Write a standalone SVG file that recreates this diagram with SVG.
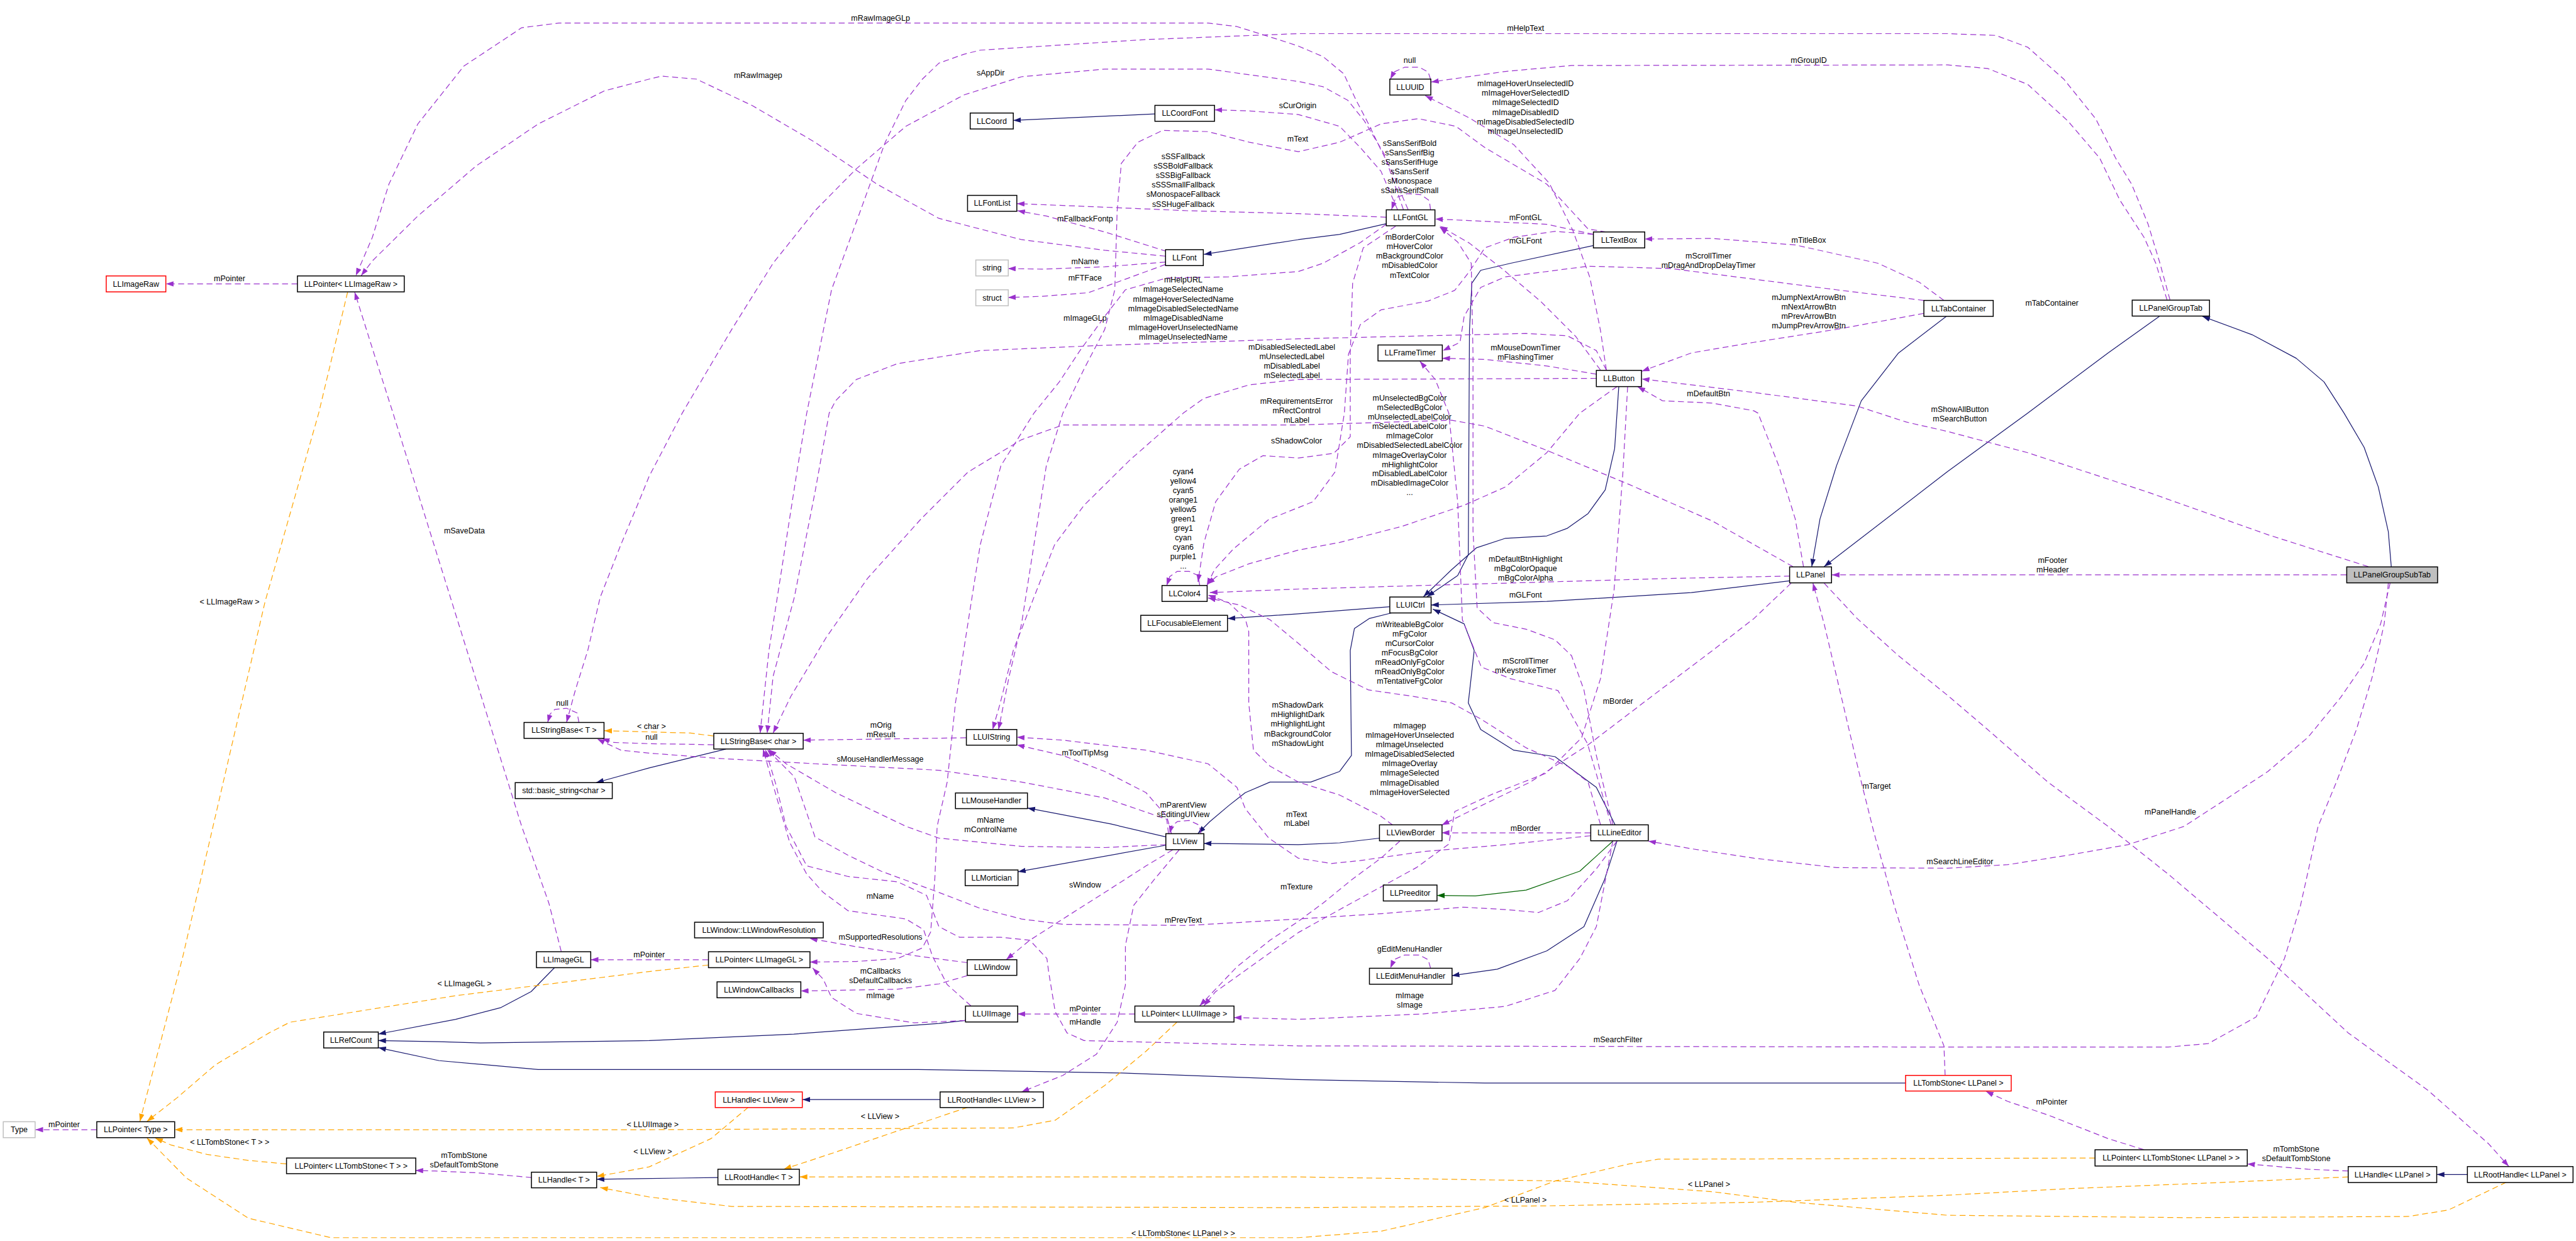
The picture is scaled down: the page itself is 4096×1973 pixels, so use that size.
<svg xmlns="http://www.w3.org/2000/svg" width="4096" height="1973" viewBox="0 0 4096 1973">
<defs>
<style>
.n rect{fill:#fff;stroke:#000;stroke-width:1.6}
.n.r rect{stroke:#ff0000}
.n.u rect{stroke:#bfbfbf}
.n.c rect{fill:#bfbfbf}
text{font-family:"Liberation Sans",Arial,Helvetica,sans-serif;font-size:13.3px;text-anchor:middle;fill:#000}
.p{fill:none;stroke:#9a32cd;stroke-width:1.3;stroke-dasharray:10 6;stroke-linejoin:round;marker-end:url(#ap)}
.b{fill:none;stroke:#191970;stroke-width:1.3;stroke-linejoin:round;marker-end:url(#ab)}
.g{fill:none;stroke:#006400;stroke-width:1.3;stroke-linejoin:round;marker-end:url(#ag)}
.o{fill:none;stroke:#ffa500;stroke-width:1.3;stroke-dasharray:10 6;stroke-linejoin:round;marker-end:url(#ao)}
</style>
<marker id="ap" markerWidth="14" markerHeight="10" refX="13" refY="4.5" orient="auto" markerUnits="userSpaceOnUse"><path d="M0,0L13,4.5L0,9z" fill="#9a32cd" stroke="none"/></marker>
<marker id="ab" markerWidth="14" markerHeight="10" refX="13" refY="4.5" orient="auto" markerUnits="userSpaceOnUse"><path d="M0,0L13,4.5L0,9z" fill="#191970" stroke="none"/></marker>
<marker id="ag" markerWidth="14" markerHeight="10" refX="13" refY="4.5" orient="auto" markerUnits="userSpaceOnUse"><path d="M0,0L13,4.5L0,9z" fill="#006400" stroke="none"/></marker>
<marker id="ao" markerWidth="14" markerHeight="10" refX="13" refY="4.5" orient="auto" markerUnits="userSpaceOnUse"><path d="M0,0L13,4.5L0,9z" fill="#ffa500" stroke="none"/></marker>
</defs>
<rect x="0" y="0" width="4096" height="1973" fill="#fff"/>
<g transform="scale(0.93837)">
<g id="connectors">
<path class="b" d="M1957,193 L1717,204"/>
<path class="b" d="M2349,379 L2270,397 L2200,406 L2040,431"/>
<path class="b" d="M2700,416 L2560,446 L2509,458 L2494,480 L2490,560 L2488,940 L2470,975 L2418,1011"/>
<path class="b" d="M2743,655 L2736,760 L2720,830 L2691,870 L2656,895 L2621,908 L2551,912 L2502,928 L2460,965 L2412,1011"/>
<path class="b" d="M3033,984 L2866,1004 L2621,1019 L2425,1025"/>
<path class="b" d="M2355,1028 L2200,1040 L2080,1048"/>
<path class="b" d="M2360,1038 L2320,1048 L2295,1065 L2288,1102 L2290,1280 L2270,1307 L2221,1325 L2152,1325 L2110,1343 L2082,1365 L2050,1392 L2030,1412"/>
<path class="b" d="M2737,1398 L2705,1334 L2635,1282 L2565,1271 L2509,1236 L2488,1191 L2498,1102 L2481,1057 L2428,1032"/>
<path class="b" d="M1976,1418 L1882,1396 L1741,1369"/>
<path class="b" d="M1976,1432 L1725,1477"/>
<path class="b" d="M2338,1420 L2270,1428 L2200,1431 L2040,1429"/>
<path class="b" d="M1230,1269 L1100,1301 L1010,1326"/>
<path class="b" d="M940,1639 L900,1680 L849,1707 L772,1727 L641,1752"/>
<path class="b" d="M1636,1729 L1591,1734 L1345,1752 L1100,1763 L814,1767 L744,1765 L641,1763"/>
<path class="b" d="M3229,1835 L2516,1835 L2200,1829 L1900,1818 L1556,1812 L1100,1812 L912,1812 L744,1797 L641,1775"/>
<path class="b" d="M1593,1863 L1360,1863"/>
<path class="b" d="M1216,1995 L1149,1996 L1011,1998"/>
<path class="b" d="M4181,1990 L4129,1990"/>
<path class="b" d="M3659,536 L3572,598 L3436,700 L3300,799 L3091,960"/>
<path class="b" d="M3298,536 L3217,598 L3154,679 L3112,789 L3084,879 L3070,960"/>
<path class="b" d="M4052,960 L4047,901 L4030,825 L4006,758 L3972,700 L3938,647 L3891,607 L3816,567 L3732,536"/>
<path class="b" d="M2740,1425 L2719,1490 L2684,1570 L2621,1611 L2537,1642 L2460,1653"/>
<path class="g" d="M2733,1425 L2677,1476 L2586,1508 L2500,1518 L2435,1517"/>
<path class="o" d="M589,495 L540,700 L449,1020 L361,1400 L309,1624 L237,1900"/>
<path class="o" d="M1200,1635 L1100,1646 L772,1687 L491,1732 L456,1750 L365,1804 L300,1860 L249,1900"/>
<path class="o" d="M1994,1732 L1942,1781 L1872,1839 L1788,1898 L1717,1911 L1100,1914 L296,1914"/>
<path class="o" d="M1640,1876 L1521,1916 L1416,1952 L1328,1981"/>
<path class="o" d="M1268,1876 L1205,1929 L1100,1977 L1040,1988 L1011,1993"/>
<path class="o" d="M485,1972 L421,1966 L351,1956 L290,1940 L263,1928"/>
<path class="o" d="M3550,1962 L2810,1964 L2761,1972 L2635,2001 L2516,2046 L2340,2086 L2200,2097 L561,2097 L421,2064 L316,1996 L249,1928"/>
<path class="o" d="M3979,1994 L3775,2003 L3504,2014 L3300,2025 L2972,2037 L2621,2043 L2200,2046 L1240,2044 L1100,2028 L1017,2012"/>
<path class="o" d="M4247,2003 L4149,2050 L4081,2061 L3707,2063 L3300,2059 L3042,2037 L2901,2019 L2649,2001 L2200,1994 L1355,1994"/>
<path class="o" d="M1209,1247 L1170,1242 L1100,1240 L1024,1238"/>
<path class="p" d="M504,481 L281,481"/>
<path class="p" d="M2386,355 L2379,339 L2361,295 L2340,254 L2319,210 L2298,170 L2277,125 L2242,96 L2200,78 L2166,67 L2096,45 L2047,39 L947,39 L884,47 L786,112 L708,210 L659,312 L631,402 L603,467"/>
<path class="p" d="M1975,434 L1872,424 L1731,406 L1591,370 L1486,312 L1381,241 L1275,179 L1180,134 L1121,129 L1100,134 L1024,154 L912,210 L807,281 L708,366 L631,442 L612,467"/>
<path class="p" d="M951,1612 L930,1530 L884,1400 L666,700 L635,603 L612,530 L601,495"/>
<path class="p" d="M2368,355 L2340,290 L2305,250 L2270,214 L2200,194 L2117,188 L2058,186"/>
<path class="p" d="M2424,355 L2422,340 L2408,330 L2385,328 L2365,335 L2358,355"/>
<path class="p" d="M2349,368 L2200,362 L2012,357 L1872,351 L1723,345"/>
<path class="p" d="M1977,426 L1872,393 L1773,366 L1724,357"/>
<path class="p" d="M1975,444 L1872,452 L1766,456 L1708,455"/>
<path class="p" d="M1975,448 L1907,473 L1844,496 L1766,502 L1708,504"/>
<path class="p" d="M3677,508 L3660,446 L3640,380 L3612,312 L3585,268 L3551,201 L3497,134 L3436,80 L3382,60 L3300,57 L2200,57 L1942,67 L1661,85 L1633,92 L1591,107 L1563,134 L1535,170 L1500,241 L1458,357 L1409,491 L1367,700 L1352,789 L1324,968 L1303,1102 L1288,1242"/>
<path class="p" d="M3672,508 L3653,446 L3633,402 L3592,339 L3558,268 L3504,205 L3436,143 L3368,116 L3300,110 L2663,111 L2551,121 L2425,139"/>
<path class="p" d="M2722,627 L2712,560 L2694,470 L2665,390 L2625,310 L2565,245 L2490,200 L2415,162"/>
<path class="p" d="M2700,397 L2621,380 L2516,375 L2432,371"/>
<path class="p" d="M2712,627 L2670,570 L2610,510 L2545,455 L2490,412 L2440,383"/>
<path class="p" d="M2722,393 L2691,388 L2621,312 L2516,250 L2467,214 L2403,201 L2340,210 L2270,241 L2200,257 L2117,241 L2047,223 L1970,221 L1928,241 L1900,277 L1893,357 L1889,491 L1872,558 L1837,625 L1801,700 L1773,789 L1752,923 L1731,1057 L1710,1146 L1692,1236"/>
<path class="p" d="M2705,641 L2200,643 L2117,652 L2040,675 L2005,700 L1914,780 L1837,856 L1787,923 L1752,1012 L1717,1102 L1695,1191 L1682,1236"/>
<path class="p" d="M2722,627 L2705,594 L2656,569 L2586,565 L2200,574 L2082,578 L1872,585 L1661,594 L1521,616 L1451,643 L1416,679 L1405,700 L1381,834 L1346,1012 L1310,1146 L1300,1242"/>
<path class="p" d="M2349,380 L2305,411 L2242,446 L2200,460 L2082,469 L1977,471 L1907,491 L1872,536 L1830,594 L1795,647 L1752,700 L1696,789 L1661,923 L1640,1057 L1619,1191 L1605,1325 L1588,1400 L1584,1490 L1577,1579 L1563,1606 L1521,1624 L1451,1629 L1372,1630"/>
<path class="p" d="M1645,1704 L1605,1668 L1580,1620 L1565,1575 L1535,1557 L1486,1550 L1437,1543 L1395,1512 L1367,1481 L1338,1427 L1310,1330 L1293,1269"/>
<path class="p" d="M1980,1412 L1977,1388 L1872,1352 L1731,1325 L1591,1305 L1381,1294 L1219,1285 L1100,1276 L1052,1271 L1012,1252"/>
<path class="p" d="M1209,1262 L1170,1261 L1100,1260 L1040,1258 L1020,1251"/>
<path class="p" d="M981,1224 L978,1208 L960,1200 L940,1202 L932,1210 L928,1224"/>
<path class="p" d="M2378,355 L2345,260 L2312,205 L2284,170 L2242,147 L2200,138 L2047,117 L1872,117 L1731,130 L1633,161 L1535,214 L1451,286 L1381,357 L1310,446 L1240,558 L1156,700 L1100,807 L1080,856 L1052,923 L1017,1012 L996,1102 L975,1169 L960,1224"/>
<path class="p" d="M1637,1250 L1361,1254"/>
<path class="p" d="M1985,1412 L1977,1383 L1942,1343 L1872,1307 L1801,1280 L1723,1262"/>
<path class="p" d="M2695,1416 L2551,1431 L2410,1443 L2305,1458 L2256,1463 L2200,1454 L2150,1420 L2110,1370 L2096,1334 L2047,1294 L1942,1271 L1801,1254 L1723,1249"/>
<path class="p" d="M1976,1431 L1872,1436 L1731,1434 L1591,1420 L1535,1400 L1416,1343 L1332,1294 L1303,1270"/>
<path class="p" d="M2740,1425 L2705,1472 L2656,1526 L2607,1546 L2551,1541 L2480,1537 L2340,1548 L2200,1557 L2012,1568 L1801,1566 L1731,1557 L1661,1539 L1591,1512 L1493,1476 L1437,1449 L1381,1418 L1346,1316 L1310,1280 L1300,1270"/>
<path class="p" d="M2035,1412 L2032,1398 L2015,1390 L1995,1392 L1985,1400 L1982,1412"/>
<path class="p" d="M1987,1440 L1942,1467 L1872,1512 L1801,1557 L1745,1593 L1705,1626"/>
<path class="p" d="M1998,1440 L1956,1490 L1921,1534 L1907,1602 L1907,1669 L1893,1732 L1858,1786 L1801,1822 L1731,1850"/>
<path class="p" d="M1923,1718 L1724,1718"/>
<path class="p" d="M2758,655 L2750,800 L2735,1000 L2712,1150 L2680,1250 L2620,1310 L2530,1345 L2465,1375 L2455,1430 L2400,1470 L2290,1530 L2200,1580 L2130,1630 L2060,1680 L2040,1704"/>
<path class="p" d="M2372,1425 L2340,1454 L2291,1490 L2242,1530 L2200,1561 L2152,1593 L2096,1638 L2033,1704"/>
<path class="p" d="M2733,1425 L2705,1570 L2677,1624 L2635,1678 L2551,1705 L2410,1718 L2200,1727 L2091,1724"/>
<path class="p" d="M2695,1411 L2443,1411"/>
<path class="p" d="M3035,988 L2972,1048 L2902,1102 L2796,1182 L2691,1262 L2593,1325 L2481,1379 L2443,1398"/>
<path class="p" d="M3056,960 L3042,879 L3014,789 L2979,700 L2972,696 L2902,683 L2817,679 L2775,655"/>
<path class="p" d="M4013,960 L3843,906 L3640,834 L3436,767 L3300,731 L3230,715 L3147,688 L2972,665 L2866,652 L2782,642"/>
<path class="p" d="M3260,531 L3112,558 L2972,580 L2866,598 L2782,629"/>
<path class="p" d="M3260,509 L3112,491 L2972,473 L2831,455 L2691,451 L2551,469 L2509,487 L2481,536 L2474,580 L2445,594"/>
<path class="p" d="M3294,509 L3252,478 L3182,446 L3042,415 L2902,404 L2787,405"/>
<path class="p" d="M2705,634 L2621,620 L2516,609 L2444,607"/>
<path class="p" d="M2730,1397 L2690,1260 L2640,1170 L2560,1150 L2510,1130 L2478,1050 L2470,850 L2455,700 L2432,643 L2406,612"/>
<path class="p" d="M3296,1822 L3294,1772 L3252,1669 L3210,1535 L3175,1409 L3154,1325 L3112,1146 L3091,1057 L3072,988"/>
<path class="p" d="M3633,1948 L3572,1929 L3470,1889 L3402,1866 L3365,1849"/>
<path class="p" d="M3979,1984 L3911,1981 L3843,1975 L3808,1972"/>
<path class="p" d="M3091,988 L3147,1048 L3217,1111 L3300,1178 L3368,1236 L3470,1325 L3572,1400 L3674,1481 L3843,1624 L3979,1750 L4115,1848 L4217,1938 L4251,1976"/>
<path class="p" d="M3976,974 L3104,974"/>
<path class="p" d="M4050,988 L4034,1057 L4006,1124 L3966,1182 L3911,1249 L3843,1307 L3775,1352 L3701,1400 L3606,1431 L3504,1449 L3402,1465 L3300,1471 L3112,1470 L2972,1454 L2866,1438 L2793,1425"/>
<path class="p" d="M4047,988 L4040,1057 L4020,1146 L3993,1236 L3959,1325 L3928,1400 L3898,1535 L3871,1624 L3823,1723 L3742,1768 L3674,1774 L3300,1774 L2200,1772 L1837,1763 L1808,1750 L1788,1714 L1777,1647 L1774,1624 L1745,1593 L1696,1588 L1626,1588 L1591,1570 L1570,1517 L1521,1494 L1437,1485 L1367,1467 L1332,1400 L1315,1330 L1297,1270"/>
<path class="p" d="M1200,1626 L1001,1626"/>
<path class="p" d="M1639,1631 L1556,1620 L1451,1604 L1372,1590"/>
<path class="p" d="M1639,1653 L1591,1667 L1521,1676 L1357,1679"/>
<path class="p" d="M1636,1729 L1549,1733 L1451,1717 L1409,1690 L1395,1659 L1377,1640"/>
<path class="p" d="M901,1995 L807,1987 L737,1984 L704,1983"/>
<path class="p" d="M164,1914 L60,1914"/>
<path class="p" d="M3038,960 L2902,883 L2761,821 L2621,763 L2516,722 L2460,712 L2200,720 L1801,720 L1731,745 L1640,800 L1560,880 L1470,980 L1400,1080 L1340,1180 L1310,1242"/>
<path class="p" d="M3033,976 L2831,980 L2621,986 L2411,992 L2200,998 L2050,1004"/>
<path class="p" d="M2712,1397 L2691,1325 L2656,1298 L2586,1267 L2509,1218 L2460,1191 L2396,1180 L2319,1169 L2256,1138 L2200,1090 L2152,1050 L2100,1025 L2047,1013"/>
<path class="p" d="M2360,1398 L2340,1383 L2270,1347 L2200,1325 L2152,1298 L2124,1271 L2116,1191 L2116,1070 L2110,1048 L2082,1021 L2047,1008"/>
<path class="p" d="M2700,397 L2635,392 L2565,402 L2516,420 L2490,460 L2465,492 L2420,510 L2340,525 L2305,550 L2285,600 L2278,700 L2262,800 L2225,850 L2150,880 L2090,930 L2058,965 L2045,992"/>
<path class="p" d="M2365,383 L2310,420 L2292,480 L2288,600 L2288,740 L2260,768 L2200,776 L2140,772 L2100,795 L2060,850 L2040,920 L2030,986"/>
<path class="p" d="M2033,992 L2030,975 L2015,968 L1995,968 L1982,977 L1977,992"/>
<path class="p" d="M2740,655 L2677,700 L2621,767 L2551,825 L2481,856 L2375,892 L2270,919 L2200,932 L2117,955 L2061,977 L2046,990"/>
<path class="p" d="M2733,1397 L2705,1280 L2684,1169 L2663,1111 L2635,1084 L2586,1066 L2530,1055 L2503,1030 L2496,900 L2496,600 L2493,446 L2470,410 L2440,385"/>
<path class="p" d="M2424,134 L2420,122 L2405,114 L2380,114 L2362,122 L2356,134"/>
<path class="p" d="M2424,1640 L2420,1626 L2405,1618 L2380,1618 L2362,1626 L2356,1640"/>
<g id="edge-labels">
<text x="389" y="476.5">mPointer</text>
<text x="1492" y="35.5">mRawImageGLp</text>
<text x="1284.5" y="132.5">mRawImagep</text>
<text x="1678.7" y="127.5">sAppDir</text>
<text x="2199" y="183.5">sCurOrigin</text>
<text x="2199" y="239.5">mText</text>
<text x="2585" y="52.5">mHelpText</text>
<text x="2388.7" y="106.5">null</text>
<text x="3065" y="106.5">mGroupID</text>
<text x="2585" y="146.5">mImageHoverUnselectedID</text>
<text x="2585" y="162.5">mImageHoverSelectedID</text>
<text x="2585" y="178.5">mImageSelectedID</text>
<text x="2585" y="194.5">mImageDisabledID</text>
<text x="2585" y="210.5">mImageDisabledSelectedID</text>
<text x="2585" y="226.5">mImageUnselectedID</text>
<text x="2388.7" y="247">sSansSerifBold</text>
<text x="2388.7" y="263">sSansSerifBig</text>
<text x="2388.7" y="279">sSansSerifHuge</text>
<text x="2388.7" y="295">sSansSerif</text>
<text x="2388.7" y="311">sMonospace</text>
<text x="2388.7" y="327">sSansSerifSmall</text>
<text x="2005" y="270">sSSFallback</text>
<text x="2005" y="286">sSSBoldFallback</text>
<text x="2005" y="302">sSSBigFallback</text>
<text x="2005" y="318">sSSSmallFallback</text>
<text x="2005" y="334">sMonospaceFallback</text>
<text x="2005" y="350.5">sSSHugeFallback</text>
<text x="1838.7" y="375">mFallbackFontp</text>
<text x="1838.7" y="448">mName</text>
<text x="1838.7" y="475">mFTFace</text>
<text x="2005" y="479">mHelpURL</text>
<text x="2005" y="495">mImageSelectedName</text>
<text x="2005" y="511">mImageHoverSelectedName</text>
<text x="2005" y="527">mImageDisabledSelectedName</text>
<text x="2005" y="543">mImageDisabledName</text>
<text x="2005" y="559">mImageHoverUnselectedName</text>
<text x="2005" y="575.5">mImageUnselectedName</text>
<text x="1838.7" y="543">mImageGLp</text>
<text x="2585" y="372.5">mFontGL</text>
<text x="2585" y="412">mGLFont</text>
<text x="2388.7" y="406">mBorderColor</text>
<text x="2388.7" y="422">mHoverColor</text>
<text x="2388.7" y="438.5">mBackgroundColor</text>
<text x="2388.7" y="454.5">mDisabledColor</text>
<text x="2388.7" y="470.5">mTextColor</text>
<text x="3065" y="411">mTitleBox</text>
<text x="2895" y="438.5">mScrollTimer</text>
<text x="2895" y="454.5">mDragAndDropDelayTimer</text>
<text x="3065" y="508">mJumpNextArrowBtn</text>
<text x="3065" y="524">mNextArrowBtn</text>
<text x="3065" y="540">mPrevArrowBtn</text>
<text x="3065" y="556">mJumpPrevArrowBtn</text>
<text x="3477" y="518">mTabContainer</text>
<text x="2585" y="594">mMouseDownTimer</text>
<text x="2585" y="610">mFlashingTimer</text>
<text x="2189" y="592">mDisabledSelectedLabel</text>
<text x="2189" y="608">mUnselectedLabel</text>
<text x="2189" y="624">mDisabledLabel</text>
<text x="2189" y="640">mSelectedLabel</text>
<text x="2895" y="671">mDefaultBtn</text>
<text x="3321" y="697.5">mShowAllButton</text>
<text x="3321" y="713.5">mSearchButton</text>
<text x="2197" y="684">mRequirementsError</text>
<text x="2197" y="700">mRectControl</text>
<text x="2197" y="716">mLabel</text>
<text x="2388.7" y="679">mUnselectedBgColor</text>
<text x="2388.7" y="695">mSelectedBgColor</text>
<text x="2388.7" y="711">mUnselectedLabelColor</text>
<text x="2388.7" y="727">mSelectedLabelColor</text>
<text x="2388.7" y="743">mImageColor</text>
<text x="2388.7" y="759">mDisabledSelectedLabelColor</text>
<text x="2388.7" y="775.5">mImageOverlayColor</text>
<text x="2388.7" y="791.5">mHighlightColor</text>
<text x="2388.7" y="807">mDisabledLabelColor</text>
<text x="2388.7" y="823">mDisabledImageColor</text>
<text x="2388.7" y="839">...</text>
<text x="2197" y="751">sShadowColor</text>
<text x="2005" y="803.5">cyan4</text>
<text x="2005" y="819.5">yellow4</text>
<text x="2005" y="835.5">cyan5</text>
<text x="2005" y="851.5">orange1</text>
<text x="2005" y="867.5">yellow5</text>
<text x="2005" y="883.5">green1</text>
<text x="2005" y="899.5">grey1</text>
<text x="2005" y="915.5">cyan</text>
<text x="2005" y="931.5">cyan6</text>
<text x="2005" y="947.5">purple1</text>
<text x="2005" y="963.5">...</text>
<text x="787" y="904">mSaveData</text>
<text x="2585" y="951.5">mDefaultBtnHighlight</text>
<text x="2585" y="967.5">mBgColorOpaque</text>
<text x="2585" y="983.5">mBgColorAlpha</text>
<text x="3478" y="954">mFooter</text>
<text x="3478" y="970">mHeader</text>
<text x="2585" y="1012.5">mGLFont</text>
<text x="389" y="1024.5">&lt; LLImageRaw &gt;</text>
<text x="2388.7" y="1062">mWriteableBgColor</text>
<text x="2388.7" y="1078">mFgColor</text>
<text x="2388.7" y="1094">mCursorColor</text>
<text x="2388.7" y="1110">mFocusBgColor</text>
<text x="2388.7" y="1126.5">mReadOnlyFgColor</text>
<text x="2388.7" y="1142.5">mReadOnlyBgColor</text>
<text x="2388.7" y="1158.5">mTentativeFgColor</text>
<text x="2585" y="1124">mScrollTimer</text>
<text x="2585" y="1140">mKeystrokeTimer</text>
<text x="2741.6" y="1192">mBorder</text>
<text x="952.7" y="1195.5">null</text>
<text x="2199" y="1199">mShadowDark</text>
<text x="2199" y="1215">mHighlightDark</text>
<text x="2199" y="1231">mHighlightLight</text>
<text x="2199" y="1247.5">mBackgroundColor</text>
<text x="2199" y="1263.5">mShadowLight</text>
<text x="1492.8" y="1232.5">mOrig</text>
<text x="1492.8" y="1248.5">mResult</text>
<text x="1104" y="1235.5">&lt; char &gt;</text>
<text x="1104" y="1253.5">null</text>
<text x="2388.7" y="1234.5">mImagep</text>
<text x="2388.7" y="1250.5">mImageHoverUnselected</text>
<text x="2388.7" y="1266.5">mImageUnselected</text>
<text x="2388.7" y="1282.5">mImageDisabledSelected</text>
<text x="2388.7" y="1298.5">mImageOverlay</text>
<text x="2388.7" y="1314.5">mImageSelected</text>
<text x="2388.7" y="1330.5">mImageDisabled</text>
<text x="2388.7" y="1346.5">mImageHoverSelected</text>
<text x="1838.7" y="1279.5">mToolTipMsg</text>
<text x="1491.4" y="1291">sMouseHandlerMessage</text>
<text x="3180" y="1336.5">mTarget</text>
<text x="2005" y="1368.5">mParentView</text>
<text x="2005" y="1384">sEditingUIView</text>
<text x="3677.6" y="1380">mPanelHandle</text>
<text x="2197" y="1384">mText</text>
<text x="2197" y="1399.5">mLabel</text>
<text x="1678.7" y="1394">mName</text>
<text x="1678.7" y="1410">mControlName</text>
<text x="2585" y="1407.5">mBorder</text>
<text x="3321" y="1464">mSearchLineEditor</text>
<text x="1838.7" y="1504">sWindow</text>
<text x="2197" y="1507">mTexture</text>
<text x="1491.4" y="1523">mName</text>
<text x="2005" y="1563">mPrevText</text>
<text x="1492" y="1592">mSupportedResolutions</text>
<text x="2388.7" y="1612">gEditMenuHandler</text>
<text x="1100" y="1622">mPointer</text>
<text x="1492" y="1650">mCallbacks</text>
<text x="1492" y="1666">sDefaultCallbacks</text>
<text x="787" y="1671">&lt; LLImageGL &gt;</text>
<text x="1492" y="1691.5">mImage</text>
<text x="2388.7" y="1691.5">mImage</text>
<text x="2388.7" y="1707.5">sImage</text>
<text x="1838.7" y="1714">mPointer</text>
<text x="1838.7" y="1735.5">mHandle</text>
<text x="2741.6" y="1766">mSearchFilter</text>
<text x="3476.6" y="1871">mPointer</text>
<text x="1491.4" y="1896">&lt; LLView &gt;</text>
<text x="108.7" y="1910">mPointer</text>
<text x="1106" y="1910">&lt; LLUIImage &gt;</text>
<text x="389.3" y="1940">&lt; LLTombStone&lt; T &gt; &gt;</text>
<text x="3891" y="1951">mTombStone</text>
<text x="3891" y="1967">sDefaultTombStone</text>
<text x="1106" y="1955.5">&lt; LLView &gt;</text>
<text x="786.4" y="1962">mTombStone</text>
<text x="786.4" y="1978">sDefaultTombStone</text>
<text x="2896" y="2010.5">&lt; LLPanel &gt;</text>
<text x="2585" y="2038">&lt; LLPanel &gt;</text>
<text x="2005" y="2094">&lt; LLTombStone&lt; LLPanel &gt; &gt;</text>
</g>
</g>
<g id="nodes">
<g id="LLImageRaw" class="n r"><rect x="180" y="467.5" width="101" height="27"/><text x="230.5" y="485.5">LLImageRaw</text></g>
<g id="LLPointer_LLImageRaw" class="n"><rect x="504" y="467.5" width="181" height="27"/><text x="594.5" y="485.5">LLPointer&lt; LLImageRaw &gt;</text></g>
<g id="LLCoord" class="n"><rect x="1644" y="191.5" width="73" height="27"/><text x="1680.5" y="209.5">LLCoord</text></g>
<g id="LLCoordFont" class="n"><rect x="1957" y="178.5" width="101" height="27"/><text x="2007.5" y="196.5">LLCoordFont</text></g>
<g id="LLFontList" class="n"><rect x="1639.5" y="331" width="83.5" height="27"/><text x="1681.25" y="349">LLFontList</text></g>
<g id="LLFont" class="n"><rect x="1975" y="423" width="64" height="27"/><text x="2007" y="441">LLFont</text></g>
<g id="string" class="n u"><rect x="1653.5" y="440.5" width="55" height="27"/><text x="1681" y="458.5">string</text></g>
<g id="struct" class="n u"><rect x="1653.5" y="491" width="55" height="27"/><text x="1681" y="509">struct</text></g>
<g id="LLUUID" class="n"><rect x="2355" y="134" width="69.5" height="27"/><text x="2389.75" y="152">LLUUID</text></g>
<g id="LLFontGL" class="n"><rect x="2349" y="355.5" width="82.5" height="27"/><text x="2390.25" y="373.5">LLFontGL</text></g>
<g id="LLTextBox" class="n"><rect x="2700" y="393" width="87" height="27"/><text x="2743.5" y="411">LLTextBox</text></g>
<g id="LLTabContainer" class="n"><rect x="3260" y="509" width="117.5" height="27"/><text x="3318.75" y="527">LLTabContainer</text></g>
<g id="LLPanelGroupTab" class="n"><rect x="3613" y="508.5" width="131" height="27"/><text x="3678.5" y="526.5">LLPanelGroupTab</text></g>
<g id="LLFrameTimer" class="n"><rect x="2335" y="584.5" width="109" height="27"/><text x="2389.5" y="602.5">LLFrameTimer</text></g>
<g id="LLButton" class="n"><rect x="2705" y="627.5" width="76.5" height="27.5"/><text x="2743.25" y="645.75">LLButton</text></g>
<g id="LLColor4" class="n"><rect x="1969" y="992" width="76.5" height="27"/><text x="2007.25" y="1010">LLColor4</text></g>
<g id="LLFocusableElement" class="n"><rect x="1933" y="1042.5" width="147" height="27"/><text x="2006.5" y="1060.5">LLFocusableElement</text></g>
<g id="LLUICtrl" class="n"><rect x="2355" y="1011.5" width="70" height="27"/><text x="2390" y="1029.5">LLUICtrl</text></g>
<g id="LLPanel" class="n"><rect x="3032.5" y="960.5" width="71" height="27"/><text x="3068" y="978.5">LLPanel</text></g>
<g id="LLPanelGroupSubTab" class="n c"><rect x="3976.5" y="960.5" width="154" height="27"/><text x="4053.5" y="978.5">LLPanelGroupSubTab</text></g>
<g id="LLStringBase_T" class="n"><rect x="888" y="1224" width="135.5" height="27"/><text x="955.75" y="1242">LLStringBase&lt; T &gt;</text></g>
<g id="std_basic_string_char" class="n"><rect x="873" y="1326" width="164.5" height="27"/><text x="955.25" y="1344">std::basic_string&lt;char &gt;</text></g>
<g id="LLStringBase_char" class="n"><rect x="1209.5" y="1242.5" width="151.5" height="26.5"/><text x="1285.25" y="1260.25">LLStringBase&lt; char &gt;</text></g>
<g id="LLUIString" class="n"><rect x="1637.5" y="1236" width="85.5" height="26.5"/><text x="1680.25" y="1253.75">LLUIString</text></g>
<g id="LLMouseHandler" class="n"><rect x="1619" y="1343.5" width="122" height="26.5"/><text x="1680" y="1361.25">LLMouseHandler</text></g>
<g id="LLView" class="n"><rect x="1975.5" y="1412.5" width="64.5" height="27"/><text x="2007.75" y="1430.5">LLView</text></g>
<g id="LLMortician" class="n"><rect x="1635.5" y="1474" width="89.5" height="26.5"/><text x="1680.25" y="1491.75">LLMortician</text></g>
<g id="LLViewBorder" class="n"><rect x="2337.5" y="1397.5" width="106" height="27"/><text x="2390.5" y="1415.5">LLViewBorder</text></g>
<g id="LLLineEditor" class="n"><rect x="2695.5" y="1397.5" width="97.5" height="27"/><text x="2744.25" y="1415.5">LLLineEditor</text></g>
<g id="LLPreeditor" class="n"><rect x="2344" y="1499.5" width="91" height="27"/><text x="2389.5" y="1517.5">LLPreeditor</text></g>
<g id="LLEditMenuHandler" class="n"><rect x="2320.5" y="1640.5" width="140" height="27"/><text x="2390.5" y="1658.5">LLEditMenuHandler</text></g>
<g id="LLWindowResolution" class="n"><rect x="1177" y="1562.5" width="218" height="26.5"/><text x="1286" y="1580.25">LLWindow::LLWindowResolution</text></g>
<g id="LLPointer_LLImageGL" class="n"><rect x="1200.5" y="1612.5" width="172" height="27"/><text x="1286.5" y="1630.5">LLPointer&lt; LLImageGL &gt;</text></g>
<g id="LLWindow" class="n"><rect x="1639" y="1626" width="84" height="26.5"/><text x="1681" y="1643.75">LLWindow</text></g>
<g id="LLWindowCallbacks" class="n"><rect x="1215" y="1663.5" width="142" height="27"/><text x="1286" y="1681.5">LLWindowCallbacks</text></g>
<g id="LLUIImage" class="n"><rect x="1636" y="1704.5" width="88.5" height="27"/><text x="1680.25" y="1722.5">LLUIImage</text></g>
<g id="LLPointer_LLUIImage" class="n"><rect x="1923" y="1704.5" width="168" height="27"/><text x="2007" y="1722.5">LLPointer&lt; LLUIImage &gt;</text></g>
<g id="LLImageGL" class="n"><rect x="909" y="1612.5" width="92" height="27"/><text x="955" y="1630.5">LLImageGL</text></g>
<g id="LLRefCount" class="n"><rect x="548.5" y="1748.5" width="92.5" height="27"/><text x="594.75" y="1766.5">LLRefCount</text></g>
<g id="LLHandle_LLView" class="n r"><rect x="1212" y="1850" width="147.5" height="26.5"/><text x="1285.75" y="1867.75">LLHandle&lt; LLView &gt;</text></g>
<g id="LLRootHandle_LLView" class="n"><rect x="1593" y="1850" width="175" height="26.5"/><text x="1680.5" y="1867.75">LLRootHandle&lt; LLView &gt;</text></g>
<g id="LLTombStone_LLPanel" class="n r"><rect x="3229" y="1822" width="179" height="26.5"/><text x="3318.5" y="1839.75">LLTombStone&lt; LLPanel &gt;</text></g>
<g id="Type" class="n u"><rect x="5.5" y="1900.5" width="54" height="27"/><text x="32.5" y="1918.5">Type</text></g>
<g id="LLPointer_Type" class="n"><rect x="164" y="1900.5" width="132" height="27"/><text x="230" y="1918.5">LLPointer&lt; Type &gt;</text></g>
<g id="LLPointer_LLTombStone_T" class="n"><rect x="485.5" y="1962" width="219" height="26.5"/><text x="595" y="1979.75">LLPointer&lt; LLTombStone&lt; T &gt; &gt;</text></g>
<g id="LLHandle_T" class="n"><rect x="900.5" y="1986" width="110.5" height="26.5"/><text x="955.75" y="2003.75">LLHandle&lt; T &gt;</text></g>
<g id="LLRootHandle_T" class="n"><rect x="1216.5" y="1981" width="138" height="26.5"/><text x="1285.5" y="1998.75">LLRootHandle&lt; T &gt;</text></g>
<g id="LLPointer_LLTombStone_LLPanel" class="n"><rect x="3550" y="1948" width="258" height="27.5"/><text x="3679" y="1966.25">LLPointer&lt; LLTombStone&lt; LLPanel &gt; &gt;</text></g>
<g id="LLHandle_LLPanel" class="n"><rect x="3979" y="1976.5" width="150" height="27"/><text x="4054" y="1994.5">LLHandle&lt; LLPanel &gt;</text></g>
<g id="LLRootHandle_LLPanel" class="n"><rect x="4181" y="1976.5" width="179" height="27"/><text x="4270.5" y="1994.5">LLRootHandle&lt; LLPanel &gt;</text></g>
</g>
</g>
</svg>
